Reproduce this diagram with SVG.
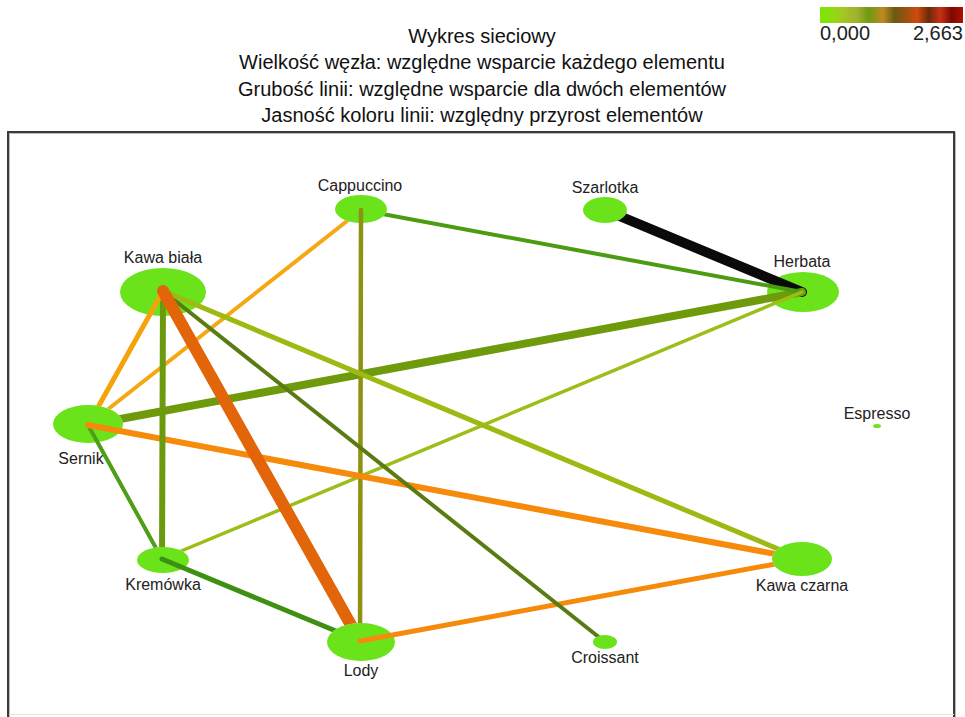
<svg xmlns="http://www.w3.org/2000/svg" width="965" height="717" viewBox="0 0 965 717">
<defs>
<linearGradient id="leg" x1="0" y1="0" x2="1" y2="0">
<stop offset="0" stop-color="#7CE600"/>
<stop offset="0.08" stop-color="#8EDC10"/>
<stop offset="0.16" stop-color="#A4C820"/>
<stop offset="0.26" stop-color="#A0B030"/>
<stop offset="0.34" stop-color="#6E9A14"/>
<stop offset="0.44" stop-color="#C08A20"/>
<stop offset="0.52" stop-color="#6A5A10"/>
<stop offset="0.6" stop-color="#9A5010"/>
<stop offset="0.68" stop-color="#D04A10"/>
<stop offset="0.76" stop-color="#6A2A08"/>
<stop offset="0.84" stop-color="#C83018"/>
<stop offset="0.92" stop-color="#7A0A00"/>
<stop offset="1" stop-color="#B01000"/>
</linearGradient>
<mask id="m-lody" maskUnits="userSpaceOnUse" x="0" y="0" width="965" height="717"><rect width="965" height="717" fill="#fff"/><ellipse cx="361" cy="642" rx="34" ry="19" fill="#000"/></mask>
<mask id="m-sernik" maskUnits="userSpaceOnUse" x="0" y="0" width="965" height="717"><rect width="965" height="717" fill="#fff"/><ellipse cx="88" cy="424" rx="35" ry="19" fill="#000"/></mask>
<mask id="m-krem" maskUnits="userSpaceOnUse" x="0" y="0" width="965" height="717"><rect width="965" height="717" fill="#fff"/><ellipse cx="163" cy="560" rx="26" ry="13" fill="#000"/></mask>
<mask id="m-kc" maskUnits="userSpaceOnUse" x="0" y="0" width="965" height="717"><rect width="965" height="717" fill="#fff"/><ellipse cx="802" cy="559" rx="30" ry="17" fill="#000"/></mask>
<mask id="m-crois" maskUnits="userSpaceOnUse" x="0" y="0" width="965" height="717"><rect width="965" height="717" fill="#fff"/><ellipse cx="605" cy="642" rx="12" ry="7" fill="#000"/></mask>
<mask id="m-szar" maskUnits="userSpaceOnUse" x="0" y="0" width="965" height="717"><rect width="965" height="717" fill="#fff"/><ellipse cx="605" cy="210" rx="22" ry="13" fill="#000"/></mask>
<mask id="m-capp" maskUnits="userSpaceOnUse" x="0" y="0" width="965" height="717"><rect width="965" height="717" fill="#fff"/><ellipse cx="361" cy="209" rx="26" ry="14" fill="#000"/></mask>
<mask id="m-capp-sernik" maskUnits="userSpaceOnUse" x="0" y="0" width="965" height="717"><rect width="965" height="717" fill="#fff"/><ellipse cx="361" cy="209" rx="26" ry="14" fill="#000"/><ellipse cx="88" cy="424" rx="35" ry="19" fill="#000"/></mask>
</defs>
<style>
.title{font-family:"Liberation Sans",Arial,sans-serif;font-size:20px;fill:#111;text-anchor:middle}
.leg{font-family:"Liberation Sans",Arial,sans-serif;font-size:20px;fill:#222}
.lbl{font-family:"Liberation Sans",Arial,sans-serif;font-size:16px;fill:#222;text-anchor:middle}
.node{fill:#6BE31B}
.e{fill:none;stroke-linecap:round}
</style>
<rect x="0" y="0" width="965" height="717" fill="#fff"/>
<g id="title">
<text class="title" x="482" y="43">Wykres sieciowy</text>
<text class="title" x="482" y="69">Wielkość węzła: względne wsparcie każdego elementu</text>
<text class="title" x="482" y="96">Grubość linii: względne wsparcie dla dwóch elementów</text>
<text class="title" x="482" y="122">Jasność koloru linii: względny przyrost elementów</text>
</g>
<g id="legend">
<rect x="820" y="7" width="143" height="16" fill="url(#leg)"/>
<text class="leg" x="820" y="40">0,000</text>
<text class="leg" x="963" y="40" text-anchor="end">2,663</text>
</g>
<rect x="9" y="133" width="946" height="600" fill="none" stroke="#bbb" stroke-width="2"/>
<rect x="8" y="132" width="946" height="600" fill="none" stroke="#3a3a3a" stroke-width="2"/>
<line x1="9" y1="714.5" x2="954" y2="714.5" stroke="#e2e2e2" stroke-width="1"/>
<g id="n-cappuccino"><ellipse class="node" cx="361" cy="209" rx="26" ry="14"/><text class="lbl" x="360" y="191">Cappuccino</text></g>
<g id="n-szarlotka"><ellipse class="node" cx="605" cy="210" rx="22" ry="13"/><text class="lbl" x="605" y="193">Szarlotka</text></g>
<g id="n-kawa-biala"><ellipse class="node" cx="163" cy="292" rx="43" ry="24"/><text class="lbl" x="163" y="263">Kawa biała</text></g>
<g id="n-herbata"><ellipse class="node" cx="803" cy="292" rx="36" ry="20"/><text class="lbl" x="802" y="267">Herbata</text></g>
<g id="n-espresso"><ellipse class="node" cx="877" cy="426" rx="4" ry="2"/><text class="lbl" x="877" y="419">Espresso</text></g>
<g id="n-sernik"><ellipse class="node" cx="88" cy="424" rx="35" ry="19"/><text class="lbl" x="81" y="464">Sernik</text></g>
<g id="n-kremowka"><ellipse class="node" cx="163" cy="560" rx="26" ry="13"/><text class="lbl" x="163" y="590">Kremówka</text></g>
<g id="n-kawa-czarna"><ellipse class="node" cx="802" cy="559" rx="30" ry="17"/><text class="lbl" x="802" y="591">Kawa czarna</text></g>
<g id="n-lody"><ellipse class="node" cx="361" cy="642" rx="34" ry="19"/><text class="lbl" x="361" y="676">Lody</text></g>
<g id="n-croissant"><ellipse class="node" cx="605" cy="642" rx="12" ry="7"/><text class="lbl" x="605" y="663">Croissant</text></g>
<g id="connectors">
<line class="e" x1="802" y1="292" x2="605" y2="210" stroke="#0A0A0A" stroke-width="10" mask="url(#m-szar)"/>
<line class="e" x1="802" y1="292" x2="88" y2="425" stroke="#6F9A0C" stroke-width="8" mask="url(#m-sernik)"/>
<line class="e" x1="802" y1="292" x2="361" y2="210" stroke="#4C9C12" stroke-width="4" mask="url(#m-capp)"/>
<line class="e" x1="802" y1="292" x2="162" y2="559" stroke="#9CBE18" stroke-width="3.5" mask="url(#m-krem)"/>
<line class="e" x1="361" y1="210" x2="360" y2="641" stroke="#8E9112" stroke-width="4.5" mask="url(#m-lody)"/>
<line class="e" x1="88" y1="425" x2="361" y2="210" stroke="#F5A814" stroke-width="4" mask="url(#m-capp-sernik)"/>
<line class="e" x1="88" y1="425" x2="162" y2="559" stroke="#4F9E16" stroke-width="4" mask="url(#m-krem)"/>
<line class="e" x1="162" y1="559" x2="360" y2="641" stroke="#3E9012" stroke-width="5" mask="url(#m-lody)"/>
<line class="e" x1="88" y1="425" x2="802" y2="559" stroke="#F68A0A" stroke-width="6" mask="url(#m-kc)"/>
<line class="e" x1="360" y1="641" x2="802" y2="559" stroke="#F68A0A" stroke-width="5" mask="url(#m-kc)"/>
<line class="e" x1="163" y1="291" x2="162" y2="559" stroke="#6C9A0E" stroke-width="6" mask="url(#m-krem)"/>
<line class="e" x1="163" y1="291" x2="88" y2="425" stroke="#F5A30A" stroke-width="5" mask="url(#m-sernik)"/>
<line class="e" x1="163" y1="291" x2="605" y2="642" stroke="#5A7A12" stroke-width="4" mask="url(#m-crois)"/>
<line class="e" x1="163" y1="291" x2="802" y2="559" stroke="#9BBA12" stroke-width="5" mask="url(#m-kc)"/>
<line class="e" x1="163" y1="291" x2="360" y2="641" stroke="#E2650A" stroke-width="12" mask="url(#m-lody)"/>
</g>
</svg>
